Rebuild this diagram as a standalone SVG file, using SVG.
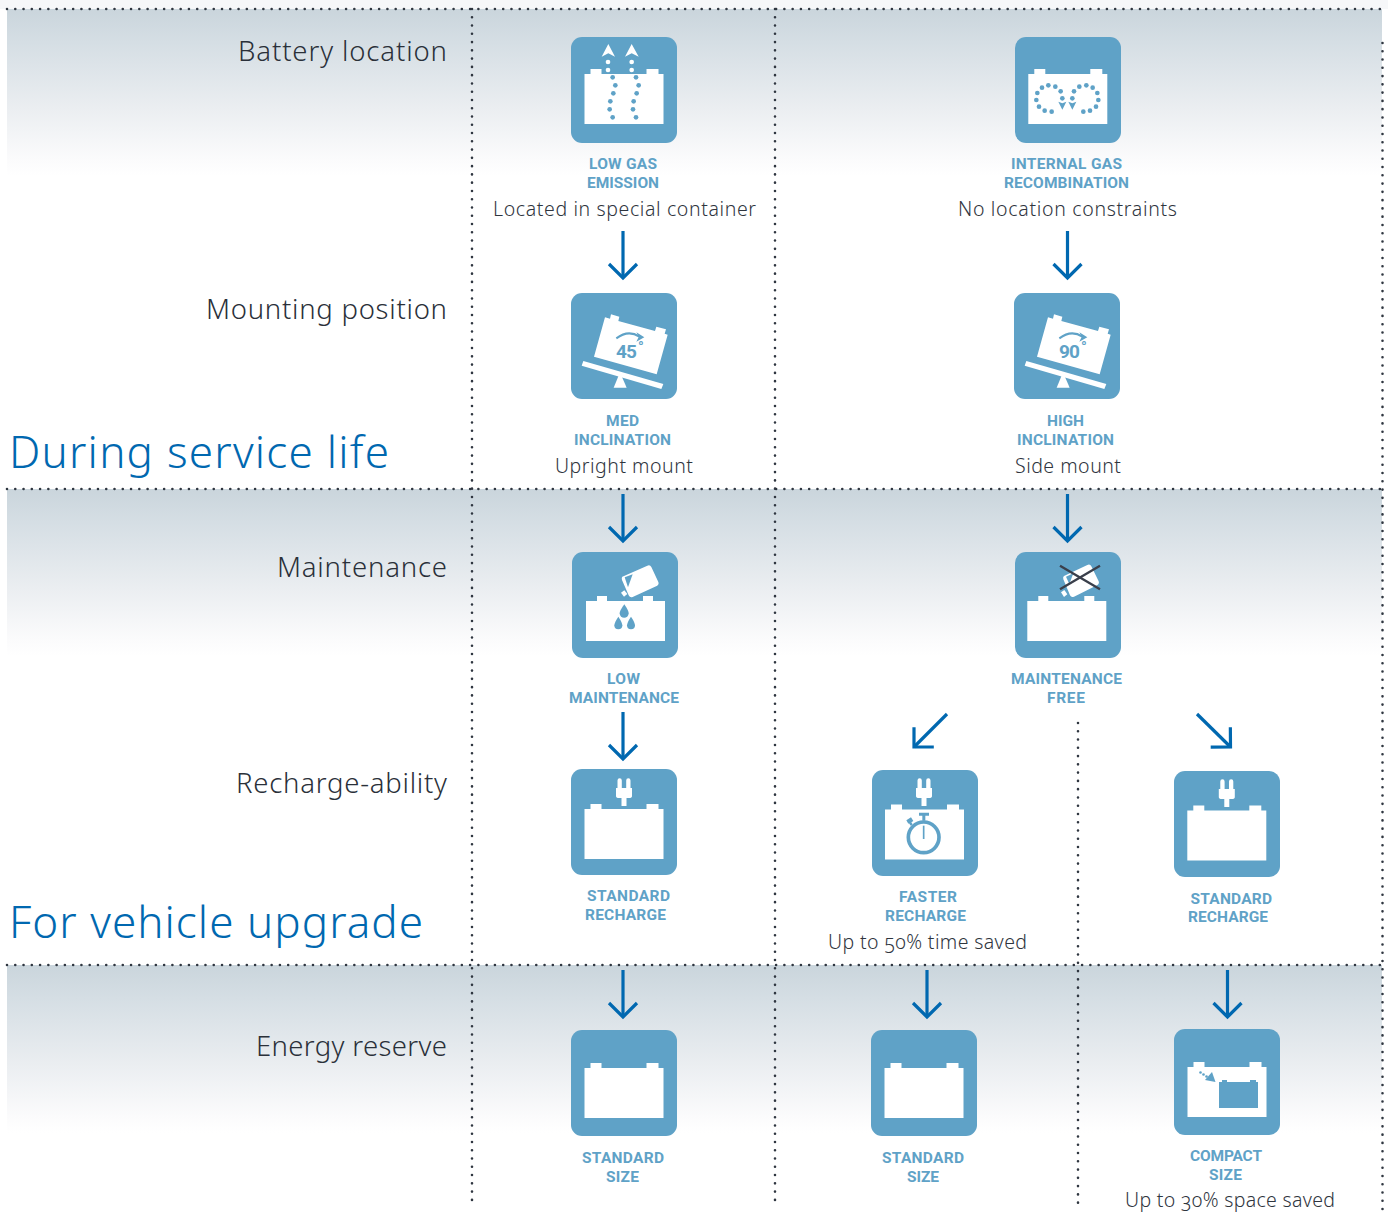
<svg xmlns="http://www.w3.org/2000/svg" width="1388" height="1215" viewBox="0 0 1388 1215">
<style>
.dot{fill:none;stroke:#2f3640;stroke-width:2.6;stroke-linecap:round;stroke-dasharray:0 8.27}
.arr{fill:none;stroke:#0068b0;stroke-width:3.2;marker-end:url(#head)}
.tile{fill:#5fa2c7}
.w{fill:#fff}
.b{fill:#5fa2c7}
.h{font-family:"Noto Sans","Open Sans",sans-serif;font-weight:300;font-size:27.500px;fill:#2a3039;text-anchor:end}
.big{font-family:"Noto Sans","Open Sans",sans-serif;font-weight:300;font-size:44px;fill:#0068b0}
.lab{font-family:Roboto,"Liberation Sans",sans-serif;font-weight:700;font-size:15.500px;fill:#5fa2c7}
.txt{font-family:"Noto Sans","Open Sans",sans-serif;font-weight:300;font-size:19.500px;fill:#2f353e;font-variant-numeric:oldstyle-nums}
.deg{font-family:Roboto,"Liberation Sans",sans-serif;font-weight:700;font-size:19px;fill:#5fa2c7}
.degs{font-family:Roboto,"Liberation Sans",sans-serif;font-weight:700;font-size:15px;fill:#5fa2c7}
</style>
<defs>
<linearGradient id="band" x1="0" y1="0" x2="0" y2="1">
<stop offset="0" stop-color="#cad5dc"/><stop offset=".2" stop-color="#d5dee4"/><stop offset=".6" stop-color="#ebeef1"/><stop offset=".9" stop-color="#fbfbfc"/><stop offset="1" stop-color="#fff"/>
</linearGradient>
<marker id="head" markerUnits="userSpaceOnUse" markerWidth="40" markerHeight="40" refX="20" refY="20" orient="auto" viewBox="0 0 40 40">
<path d="M6 6L20 20L6 34" fill="none" stroke="#0068b0" stroke-width="3.2"/>
</marker>
<rect id="tile" width="106" height="106" rx="11" class="tile"/>
<path id="bat" class="w" d="M0 0H6V-5H17V0H62V-5H74V0H79V50H0Z"/>
<path id="bat40" class="w" d="M0 0H11V-5H21V0H57V-5H67V0H79V40H0Z"/>
<path id="plug" class="w" d="M-6.500 -25.500A2.150 2.150 0 0 1 -2.200 -25.500V-18H2.200V-25.500A2.150 2.150 0 0 1 6.500 -25.500V-18H8V-10Q8 -8 5 -8H2.500V0H-2.500V-8H-5Q-8 -8 -8 -10V-18H-6.500Z"/>
<g id="tilt">
<path class="w" d="M135 97L150 101L153 88L178 95L175 108L285 138L289 125L318 133L314 146L323 149L290 268L102 215Z"/>
<path class="w" d="M70 228L310 297L304 312L65 242Z"/>
<path class="w" d="M180 262L200 308H161Z"/>
<path d="M169 160Q205 133 238 155" fill="none" stroke="#5fa2c7" stroke-width="6"/>
<path class="b" d="M229 142L253 157L229 170L236 156Z"/>
</g>
</defs>

<rect x="0" y="0" width="1388" height="9" fill="#f6f7f9"/>
<g id="bands">
<rect x="7" y="9" width="1375" height="167" fill="url(#band)"/>
<rect x="7" y="489" width="1375" height="167" fill="url(#band)"/>
<rect x="7" y="965" width="1375" height="168" fill="url(#band)"/>
</g>

<g id="grid">
<path class="dot" d="M7 9H1388"/>
<path class="dot" d="M7 489H1382"/>
<path class="dot" d="M7 965H1382"/>
<path class="dot" d="M472 9V1200"/>
<path class="dot" d="M775 9V1200"/>
<path class="dot" d="M1078 723V1205"/>
<path class="dot" d="M1382.500 43V1215"/>
</g>

<g id="row-labels">
<text class="h" x="447" y="61" textLength="209">Battery location</text>
<text class="h" x="447" y="319" textLength="241">Mounting position</text>
<text class="h" x="447" y="577" textLength="170">Maintenance</text>
<text class="h" x="447" y="793" textLength="211">Recharge-ability</text>
<text class="h" x="447" y="1056" textLength="191">Energy reserve</text>
<text class="big" x="9" y="468" textLength="380">During service life</text>
<text class="big" x="9" y="938" textLength="414">For vehicle upgrade</text>
</g>

<g id="connectors">
<path class="arr" d="M623 231V278"/>
<path class="arr" d="M1067.500 231V278"/>
<path class="arr" d="M623 494V541"/>
<path class="arr" d="M1067.500 494V541"/>
<path class="arr" d="M623 712V759"/>
<path class="arr" d="M623 970V1017"/>
<path class="arr" d="M927 970V1017"/>
<path class="arr" d="M1227.500 970V1017"/>
<path class="arr" d="M947 714L914 747"/>
<path class="arr" d="M1197 714L1230.500 747"/>
</g>

<g id="node-low-gas">
<use href="#tile" x="571" y="37"/>
<use href="#bat" x="584.500" y="74"/>
<g transform="translate(480,20) scale(.33333)">
<path class="w" d="M385 72L405 110L385 100L365 110Z"/><path class="w" d="M455 72L476 110L455 100L435 110Z"/>
<g class="w"><circle cx="384" cy="126" r="7"/><circle cx="384" cy="150" r="7"/><circle cx="455" cy="126" r="7"/><circle cx="455" cy="150" r="7"/></g>
<g class="b"><circle cx="398" cy="172" r="7"/><circle cx="406" cy="196" r="7"/><circle cx="400" cy="220" r="7"/><circle cx="391" cy="244" r="7"/><circle cx="389" cy="268" r="7"/><circle cx="398" cy="292" r="7"/><circle cx="468" cy="172" r="7"/><circle cx="476" cy="196" r="7"/><circle cx="470" cy="220" r="7"/><circle cx="461" cy="244" r="7"/><circle cx="459" cy="268" r="7"/><circle cx="468" cy="292" r="7"/></g>
</g>
<text class="lab" x="589" y="169" textLength="68">LOW GAS</text>
<text class="lab" x="587" y="188" textLength="72">EMISSION</text>
<text class="txt" x="493" y="216" textLength="263">Located in special container</text>
</g>

<g id="node-internal-gas">
<use href="#tile" x="1015" y="37"/>
<use href="#bat" x="1028.300" y="74"/>
<g transform="translate(1000,20) scale(.33333)" class="b">
<circle cx="182" cy="214" r="7"/><circle cx="166" cy="200" r="7"/><circle cx="145" cy="196" r="7"/><circle cx="126" cy="203" r="7"/><circle cx="112" cy="219" r="7"/><circle cx="109" cy="240" r="7"/><circle cx="117" cy="260" r="7"/><circle cx="134" cy="272" r="7"/><circle cx="155" cy="275" r="7"/><circle cx="187" cy="235" r="7"/>
<circle cx="222" cy="214" r="7"/><circle cx="238" cy="200" r="7"/><circle cx="259" cy="196" r="7"/><circle cx="278" cy="203" r="7"/><circle cx="292" cy="219" r="7"/><circle cx="295" cy="240" r="7"/><circle cx="288" cy="260" r="7"/><circle cx="270" cy="272" r="7"/><circle cx="250" cy="275" r="7"/><circle cx="217" cy="235" r="7"/>
<path d="M175 245L187 250L199 245L187 269Z"/><path d="M205 245L217 250L229 245L217 269Z"/>
</g>
<text class="lab" x="1011" y="169" textLength="111">INTERNAL GAS</text>
<text class="lab" x="1004" y="188" textLength="125">RECOMBINATION</text>
<text class="txt" x="958" y="216" textLength="219">No location constraints</text>
</g>

<g id="node-med-inclination">
<use href="#tile" x="571" y="293"/>
<use href="#tilt" transform="translate(560,285) scale(.33333)"/>
<text class="deg" x="616" y="358" textLength="21">45</text>
<text class="degs" x="638" y="352">°</text>
<text class="lab" x="606" y="426" textLength="33">MED</text>
<text class="lab" x="574" y="445" textLength="97">INCLINATION</text>
<text class="txt" x="555" y="473" textLength="138">Upright mount</text>
</g>

<g id="node-high-inclination">
<use href="#tile" x="1014" y="293"/>
<use href="#tilt" transform="translate(1003,285) scale(.33333)"/>
<text class="deg" x="1059" y="358" textLength="21">90</text>
<text class="degs" x="1081" y="352">°</text>
<text class="lab" x="1047" y="426" textLength="37">HIGH</text>
<text class="lab" x="1017" y="445" textLength="97">INCLINATION</text>
<text class="txt" x="1015" y="473" textLength="106">Side mount</text>
</g>

<g id="node-low-maintenance">
<use href="#tile" x="572" y="552"/>
<use href="#bat40" x="586" y="601"/>
<g transform="translate(560,540) scale(.33333)">
<path class="w" d="M187 110L262 77Q270 73 274 81L295 126Q298 134 290 138L218 171Q210 174 206 166L186 120Q184 113 187 110Z"/>
<path class="b" d="M194 112L218 103L204 142Z"/>
<path class="w" d="M183 158L193 151L202 162L192 170Z"/>
<g class="b">
<path d="M193 193Q206 212 206 220A13.500 13.500 0 0 1 179 220Q179 212 193 193Z"/>
<path d="M175 230Q187 248 187 256A12 12 0 0 1 163 256Q163 248 175 230Z"/>
<path d="M213 230Q225 248 225 256A12 12 0 0 1 201 256Q201 248 213 230Z"/>
</g>
</g>
<text class="lab" x="607" y="684" textLength="33">LOW</text>
<text class="lab" x="569" y="703" textLength="110">MAINTENANCE</text>
</g>

<g id="node-maintenance-free">
<use href="#tile" x="1015" y="552"/>
<use href="#bat40" x="1027.300" y="601"/>
<g transform="translate(1000,540) scale(.33333)">
<path class="w" d="M192 108L262 75Q270 71 274 79L296 124Q299 132 291 136L222 170Q214 174 210 166L190 118Q188 111 192 108Z"/>
<path class="b" d="M198 110L220 100L208 132Z"/>
<path class="w" d="M183 157L193 150L202 163L192 171Z"/>
<path d="M180 77L300 148M300 77L180 148" fill="none" stroke="#3a3f4b" stroke-width="7"/>
</g>
<text class="lab" x="1011" y="684" textLength="111">MAINTENANCE</text>
<text class="lab" x="1047" y="703" textLength="38">FREE</text>
</g>

<g id="node-standard-recharge-a">
<use href="#tile" x="571" y="769"/>
<use href="#bat" x="584.500" y="809"/>
<use href="#plug" x="624" y="806"/>
<text class="lab" x="587" y="901" textLength="83">STANDARD</text>
<text class="lab" x="585" y="920" textLength="81">RECHARGE</text>
</g>

<g id="node-faster-recharge">
<use href="#tile" x="872" y="770"/>
<use href="#bat" x="885" y="809.500"/>
<use href="#plug" x="924" y="806"/>
<g transform="translate(860,760) scale(.33333)">
<circle cx="191" cy="232" r="46" fill="none" stroke="#5fa2c7" stroke-width="11"/>
<path d="M191 197V237" fill="none" stroke="#5fa2c7" stroke-width="5"/>
<path class="b" d="M177 158H207V167H196V182H187V167H177Z"/>
<path class="b" d="M139 181L153 172L160 183L154 187L158 193L152 197L147 190L145 191Z"/>
</g>
<text class="lab" x="899" y="902" textLength="58">FASTER</text>
<text class="lab" x="885" y="921" textLength="81">RECHARGE</text>
<text class="txt" x="828" y="949" textLength="199">Up to 50% time saved</text>
</g>

<g id="node-standard-recharge-b">
<use href="#tile" x="1174" y="771"/>
<use href="#bat" x="1187.300" y="810.500"/>
<use href="#plug" x="1226.800" y="807"/>
<text class="lab" x="1190.500" y="904" textLength="81.500">STANDARD</text>
<text class="lab" x="1188" y="922" textLength="80">RECHARGE</text>
</g>

<g id="node-standard-size-a">
<use href="#tile" x="571" y="1030"/>
<use href="#bat" x="584.500" y="1068"/>
<text class="lab" x="582" y="1163" textLength="82">STANDARD</text>
<text class="lab" x="606" y="1182" textLength="33">SIZE</text>
</g>

<g id="node-standard-size-b">
<use href="#tile" x="871" y="1030"/>
<use href="#bat" x="884.500" y="1068"/>
<text class="lab" x="882" y="1163" textLength="82">STANDARD</text>
<text class="lab" x="907" y="1182" textLength="32">SIZE</text>
</g>

<g id="node-compact-size">
<use href="#tile" x="1174" y="1029"/>
<use href="#bat" x="1187.500" y="1067"/>
<path class="b" d="M1219 1082H1222V1080H1227V1082H1250V1080H1256V1082H1258V1108H1219Z"/>
<g class="b"><circle cx="1200.500" cy="1072.500" r="1.300"/><circle cx="1203.500" cy="1074.500" r="1.300"/><circle cx="1206.500" cy="1076.500" r="1.300"/><path d="M1215.500 1082L1205 1080L1212 1072Z"/></g>
<text class="lab" x="1190" y="1161" textLength="72">COMPACT</text>
<text class="lab" x="1209" y="1180" textLength="33">SIZE</text>
<text class="txt" x="1125" y="1207" textLength="210">Up to 30% space saved</text>
</g>
</svg>
